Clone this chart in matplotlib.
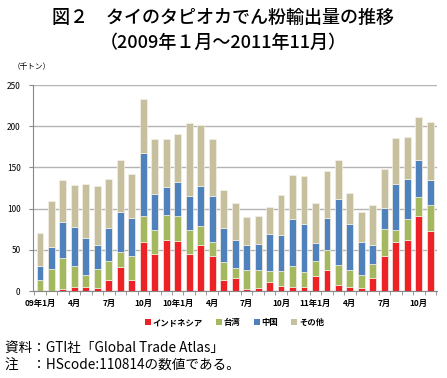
import matplotlib.pyplot as plt
import numpy as np
from matplotlib.patches import Patch

plt.rcParams['font.family'] = ['Noto Sans CJK JP', 'DejaVu Sans']

# data (thousand tons), Jan 2009 - Nov 2011
months = ['09年1月', '', '', '4月', '', '', '7月', '', '', '10月', '', '',
          '10年1月', '', '', '4月', '', '', '7月', '', '', '10月', '', '',
          '11年1月', '', '', '4月', '', '', '7月', '', '', '10月', '']
indonesia = [0, 0, 3, 4.5, 5, 4, 13, 29, 13, 59, 45, 62, 61, 44.5, 56, 42, 14, 15.4,
             3, 4, 11, 6.5, 4.5, 4.5, 18, 25, 7, 4.5, 4, 16, 43, 59, 62, 91, 73]
taiwan = [13, 27, 37.5, 26.5, 15, 22.7, 24, 19, 29.5, 31.7, 29, 30.7, 30.5, 29, 22.6, 17, 21, 13,
          23, 22, 13.3, 18, 26, 19, 19, 24.4, 24.6, 21, 16, 17, 32, 15, 25, 23.6, 32]
china = [17.4, 26, 43, 46.4, 44.4, 28.8, 39, 47.8, 45.8, 76.3, 43.5, 33.3, 40.5, 42, 49.4, 56.8, 41.2, 33,
         30, 30.7, 45.4, 43, 57.5, 58.3, 21.7, 39, 79.6, 55.5, 39, 23, 26, 55.6, 49.5, 45, 30]
others = [39.6, 56.4, 51, 51.6, 65.6, 72.5, 59.7, 63.2, 54.3, 66, 67.5, 58.7, 58, 89, 73, 69, 47, 45,
          34, 34, 32.8, 49.4, 52.7, 58, 47.8, 57, 47.6, 37.7, 37.4, 49, 47, 56, 50.5, 51.4, 70.7]

names = ['インドネシア', '台湾', '中国', 'その他']
colors = ['#ec2227', '#a4b95f', '#4f81bd', '#c6c09e']

fig = plt.figure(figsize=(4.47, 3.78), dpi=100)
ax = fig.add_axes([0.074, 0.230, 0.904, 0.545])

x = np.arange(len(months))
bottom = np.zeros(len(months))
for vals, c in zip([indonesia, taiwan, china, others], colors):
    ax.bar(x, vals, width=0.6, bottom=bottom, color=c, edgecolor='#f4efe4', linewidth=0.5, zorder=3)
    bottom += np.array(vals)

ax.set_xlim(-0.6, len(months) - 0.4)
ax.set_ylim(0, 250)
ax.set_yticks(range(0, 251, 50))
ax.yaxis.grid(True, color='#b4b4b4', linewidth=1.0, zorder=0)
ax.tick_params(axis='y', labelsize=6, length=3, color='#888888', pad=6)

ax.set_xticks(x)
ax.set_xticklabels(months, fontsize=6, fontweight='bold')
ax.tick_params(axis='x', which='major', length=0, pad=6)
ax.set_xticks(np.arange(-0.5, len(months), 1), minor=True)
ax.tick_params(axis='x', which='minor', length=3, color='#888888')

for s in ['top', 'right']:
    ax.spines[s].set_visible(False)
ax.spines['left'].set_color('#888888')
ax.spines['bottom'].set_color('#888888')

fig.text(0.028, 0.823, '（千トン）', fontsize=5.5, ha='left', va='center')

fig.text(0.5, 0.952, '図２　タイのタピオカでん粉輸出量の推移', fontsize=13,
         fontweight='medium', ha='center', va='center')
fig.text(0.5, 0.886, '（2009年１月～2011年11月）', fontsize=13,
         fontweight='medium', ha='center', va='center')

handles = [Patch(facecolor=c) for c in colors]
leg = fig.legend(handles, names, loc='center', bbox_to_anchor=(0.525, 0.148), ncol=4,
                 frameon=False, fontsize=6, handlelength=0.7, handleheight=0.7,
                 handletextpad=0.2, columnspacing=1.6)
for t in leg.get_texts():
    t.set_fontweight('bold')

fig.text(0.012, 0.080, '資料：GTI社「Global Trade Atlas」', fontsize=9.8, ha='left', va='center')
fig.text(0.012, 0.032, '注　：HScode:110814の数値である。', fontsize=9.8, ha='left', va='center')

fig.savefig('out.png', dpi=100)
